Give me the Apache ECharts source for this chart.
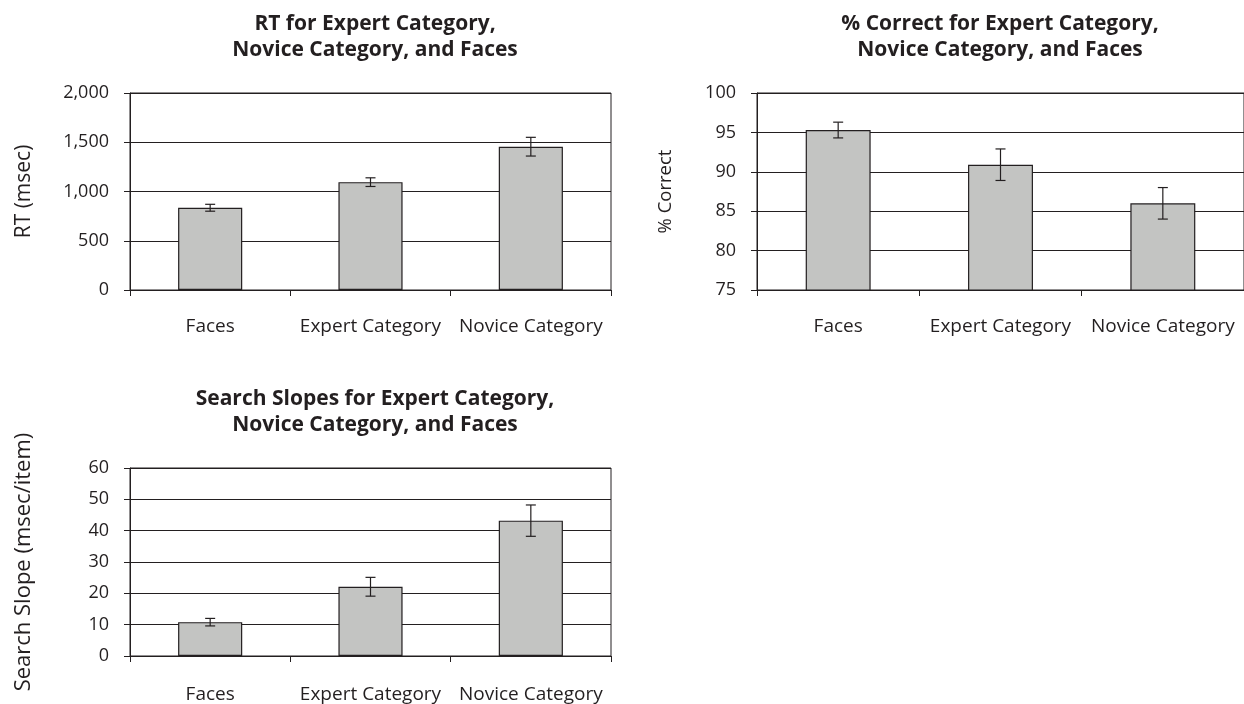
<!DOCTYPE html>
<html>
<head>
<meta charset="utf-8">
<script src="https://cdn.jsdelivr.net/npm/echarts@6/dist/echarts.min.js"></script>
<style>
html,body{margin:0;padding:0;background:#fff;}
#c{width:1244px;height:704px;}
</style>
</head>
<body>
<div id="c"></div>
<script>
const categories = ['Faces', 'Expert Category', 'Novice Category'];

const rtValues = [835, 1095, 1455];
const rtErrors = [35, 44, 95];
const rtTicks = [0, 500, 1000, 1500, 2000];

const pcValues = [95.3, 90.9, 86.0];
const pcErrors = [1.0, 2.0, 2.0];
const pcTicks = [75, 80, 85, 90, 95, 100];

const slopeValues = [10.8, 22.1, 43.2];
const slopeErrors = [1.2, 3.0, 5.0];
const slopeTicks = [0, 10, 20, 30, 40, 50, 60];

const titles = [
  'RT for Expert Category,\nNovice Category, and Faces',
  '% Correct for Expert Category,\nNovice Category, and Faces',
  'Search Slopes for Expert Category,\nNovice Category, and Faces'
];
const yNames = ['RT (msec)', '% Correct', 'Search Slope (msec/item)'];

const INK = '#231f20';
const FONT = 'Open Sans';

function errData(vals, errs) {
  return vals.map((v, i) => [i, v - errs[i], v + errs[i]]);
}

function renderErr(params, api) {
  const i = api.value(0);
  const top = api.coord([i, api.value(2)]);
  const bot = api.coord([i, api.value(1)]);
  const hw = 5;
  const st = { stroke: INK, lineWidth: 1.2 };
  return {
    type: 'group',
    children: [
      { type: 'line', shape: { x1: top[0], y1: top[1], x2: bot[0], y2: bot[1] }, style: st },
      { type: 'line', shape: { x1: top[0] - hw, y1: top[1], x2: top[0] + hw, y2: top[1] }, style: st },
      { type: 'line', shape: { x1: bot[0] - hw, y1: bot[1], x2: bot[0] + hw, y2: bot[1] }, style: st }
    ]
  };
}

function fmtThousands(v) {
  return String(v).replace(/\B(?=(\d{3})+(?!\d))/g, ',');
}

const grids = [
  { left: 130, top: 93, width: 481, height: 197 },
  { left: 757, top: 93, width: 495, height: 197 },
  { left: 130, top: 468, width: 481, height: 188 }
];
grids.forEach(g => { g.show = true; g.borderColor = INK; g.borderWidth = 1; g.backgroundColor = 'transparent'; });

const tickSets = [rtTicks, pcTicks, slopeTicks];
const nameGaps = [95, 82, 95];
const nameSizes = [21, 18.5, 22];
const labelMargins = [27, 27, 29];

const xAxes = [0, 1, 2].map(k => ({
  type: 'category', gridIndex: k, data: categories,
  axisLine: { show: true, lineStyle: { color: INK, width: 1 } },
  axisTick: { show: true, length: 6, lineStyle: { color: INK } },
  axisLabel: { color: INK, fontFamily: FONT, fontSize: 19, margin: labelMargins[k], interval: 0 },
  splitLine: { show: false }
}));

const yAxes = [0, 1, 2].map(k => {
  const t = tickSets[k];
  return {
    type: 'value', gridIndex: k,
    min: t[0], max: t[t.length - 1], interval: t[1] - t[0],
    name: yNames[k], nameLocation: 'middle', nameGap: nameGaps[k], nameRotate: 90,
    nameTextStyle: { color: INK, fontFamily: FONT, fontSize: nameSizes[k] },
    axisLine: { show: true, lineStyle: { color: INK, width: 1 } },
    axisTick: { show: true, length: 6, lineStyle: { color: INK } },
    axisLabel: { color: INK, fontFamily: FONT, fontSize: 18, margin: 21,
      formatter: k === 0 ? fmtThousands : null },
    splitLine: { show: true, lineStyle: { color: INK, width: 1 } }
  };
});

const titleCenters = [[370, 6], [995, 6], [370, 381]];
const title = titles.map((t, k) => ({
  text: t, left: titleCenters[k][0], top: titleCenters[k][1], textAlign: 'center',
  textStyle: { color: INK, fontFamily: FONT, fontSize: 21, fontWeight: 'bold', lineHeight: 26 }
}));

const valueSets = [rtValues, pcValues, slopeValues];
const errSets = [rtErrors, pcErrors, slopeErrors];
const series = [];
[0, 1, 2].forEach(k => {
  series.push({
    type: 'bar', xAxisIndex: k, yAxisIndex: k, data: valueSets[k],
    barWidth: '40%',
    itemStyle: { color: '#c3c4c2', borderColor: INK, borderWidth: 1.2 },
    z: 2
  });
  series.push({
    type: 'custom', xAxisIndex: k, yAxisIndex: k,
    data: errData(valueSets[k], errSets[k]),
    encode: { x: 0, y: [1, 2] },
    renderItem: renderErr, z: 5
  });
});

const chart = echarts.init(document.getElementById('c'), null, { renderer: 'canvas' });
chart.setOption({
  animation: false,
  backgroundColor: '#ffffff',
  title: title,
  grid: grids,
  xAxis: xAxes,
  yAxis: yAxes,
  series: series
});
</script>
</body>
</html>
